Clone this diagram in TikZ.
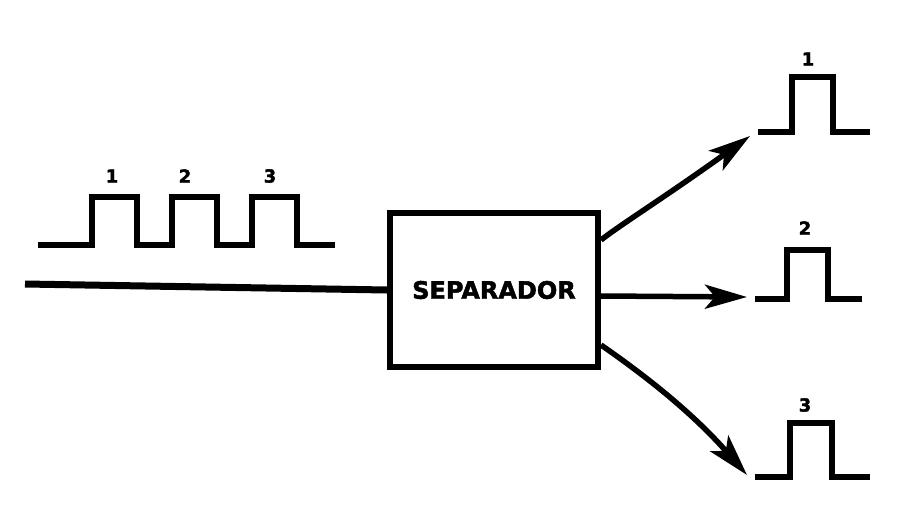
\documentclass[tikz,border=0pt]{standalone}
\usepackage{fontspec}
\setsansfont{DejaVu Sans}
\newfontfamily\heavyfont{DejaVu Sans Bold}[FakeBold=2]
\usetikzlibrary{arrows.meta}
\begin{document}
\begin{tikzpicture}[
					x=1pt, y=-1pt,
					pulse/.style={line width=5.5pt, line join=miter},
					numlbl/.style={font=\heavyfont\fontsize{18}{18}\selectfont, inner sep=0pt},
					outarrow/.style={line width=5.5pt, -{Stealth[length=42pt, width=24pt, inset=10pt]}}
				]
				\useasboundingbox (0,0) rectangle (899,504);
				% separator box
				\node[draw, line width=6pt, minimum width=208pt, minimum height=154pt,
				      font=\heavyfont\fontsize{24}{24}\selectfont] (sep) at (494,290) {SEPARADOR};
				% input line
				\coordinate (in) at (25,284);
				\draw[line width=7pt] (in) -- (sep.west);
				% input pulses
				\draw[pulse] (38,245) -| (92,197) -| (137,245) -| (172,197) -| (217,245) -| (252,197) -| (297,245) -- (335,245);
				\node[numlbl] (i1) at (112,176) {1};
				\node[numlbl] (i2) at (185,176) {2};
				\node[numlbl] (i3) at (270,176) {3};
				% outputs
				\coordinate (o1) at (750,136);
				\coordinate (o2) at (747,297);
				\coordinate (o3) at (747,475);
				\draw[outarrow] ([yshift=50pt]sep.east) .. controls (620,225) and (665,197) .. (o1);
				\draw[outarrow] ([yshift=-6pt]sep.east) -- (o2);
				\draw[outarrow] ([yshift=-55pt]sep.east) .. controls (640,372) and (690,410) .. (o3);
				% output pulses
				\draw[pulse] (758,132) -| (792,77) -| (833,132) -- (870,132);
				\draw[pulse] (755,299) -| (787,250) -| (828,299) -- (862,299);
				\draw[pulse] (755,477) -| (790,423) -| (832,477) -- (870,477);
				\node[numlbl] (p1) at (808,59) {1};
				\node[numlbl] (p2) at (805,228) {2};
				\node[numlbl] (p3) at (805,405) {3};
			\end{tikzpicture}
\end{document}
